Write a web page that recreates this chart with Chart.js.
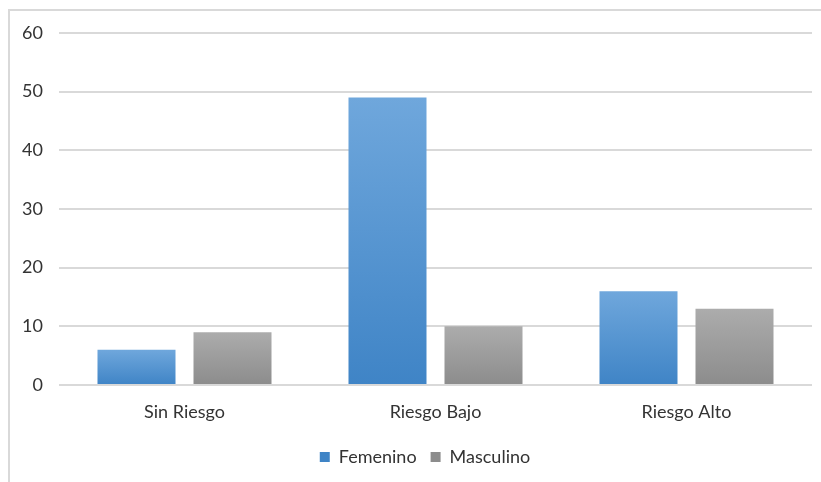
<!DOCTYPE html>
<html>
<head>
<meta charset="utf-8">
<script src="https://cdn.jsdelivr.net/npm/chart.js@4.4.0/dist/chart.umd.min.js"></script>
<style>
  html, body { margin: 0; padding: 0; background: #fff; }
  #wrap { position: relative; width: 821px; height: 482px; overflow: hidden; }
  #frame { position: absolute; left: 8px; top: 9px; width: 900px; height: 600px; border: 2px solid #d9d9d9; box-sizing: border-box; }
  #chart { position: absolute; left: 0; top: 0; }
</style>
</head>
<body>
<div id="wrap">
  <div id="frame"></div>
  <canvas id="chart" width="821" height="482"></canvas>
</div>
<script>
const categorias = ['Sin Riesgo', 'Riesgo Bajo', 'Riesgo Alto'];
const femenino = [6, 49, 16];
const masculino = [9, 10, 13];
const yMax = 60;
const yStep = 10;

// degradado vertical por barra, como en Excel
function degradado(top, bottom) {
  return (context) => {
    const chart = context.chart;
    if (!chart.chartArea || context.raw === undefined) return bottom;
    const y = chart.scales.y;
    const y0 = y.getPixelForValue(0);
    const y1 = y.getPixelForValue(context.raw);
    if (y0 === y1) return bottom;
    const g = chart.ctx.createLinearGradient(0, y1, 0, y0);
    g.addColorStop(0, top);
    g.addColorStop(1, bottom);
    return g;
  };
}

// mover la leyenda un poco a la derecha
const moverLeyenda = {
  id: 'moverLeyenda',
  afterLayout(chart) {
    if (chart.legend) {
      chart.legend.left += 14;
      chart.legend.right += 14;
    }
  }
};

const fuente = { family: 'Lato, "Liberation Sans", sans-serif', size: 18 };

const ctx = document.getElementById('chart').getContext('2d');
new Chart(ctx, {
  type: 'bar',
  data: {
    labels: categorias,
    datasets: [{
      label: 'Femenino',
      data: femenino,
      backgroundColor: degradado('#6fa7dc', '#3f84c6'),
      borderWidth: 0
    }, {
      label: 'Masculino',
      data: masculino,
      backgroundColor: degradado('#acacac', '#8c8c8c'),
      borderWidth: 0
    }]
  },
  plugins: [moverLeyenda],
  options: {
    responsive: false,
    animation: false,
    categoryPercentage: 0.765,
    barPercentage: 0.8125,
    layout: { padding: { left: 10, right: 9, top: 33, bottom: 6 } },
    plugins: {
      tooltip: { enabled: false },
      legend: {
        position: 'bottom',
        labels: {
          color: '#333333',
          font: fuente,
          boxWidth: 10,
          boxHeight: 10,
          padding: 14
        }
      }
    },
    scales: {
      x: {
        afterFit: (scale) => { scale.height = 49; },
        grid: { display: false, drawTicks: false },
        border: { display: false },
        ticks: { color: '#333333', font: fuente, padding: 16 }
      },
      y: {
        min: 0,
        max: yMax,
        afterFit: (scale) => {
          scale.width = 49;
          scale.paddingTop = 0;
          scale.paddingBottom = 0;
        },
        grid: { color: '#d9d9d9', lineWidth: 2, drawTicks: false },
        border: { display: false },
        ticks: { stepSize: yStep, color: '#333333', font: fuente, padding: 16 }
      }
    }
  }
});
</script>
</body>
</html>
